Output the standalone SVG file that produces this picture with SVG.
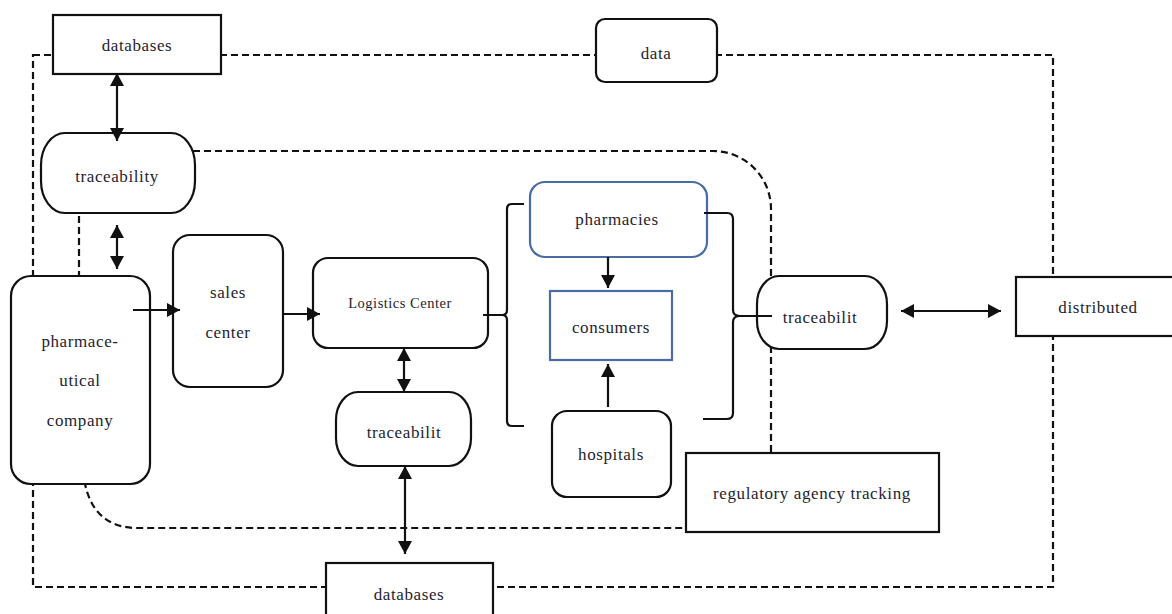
<svg xmlns="http://www.w3.org/2000/svg" width="1172" height="614" viewBox="0 0 1172 614">
<style>
.box{fill:#fff;stroke:#111;stroke-width:2.2}
.blue{fill:#fff;stroke:#4a6ca6;stroke-width:2.2}
.dash{fill:none;stroke:#111;stroke-width:2.2;stroke-dasharray:7 4}
.ln{fill:none;stroke:#111;stroke-width:2.2}
.t{font-family:"Liberation Serif","Times New Roman",serif;font-size:17px;letter-spacing:0.6px;fill:#1e1e30;text-anchor:middle}
.s{font-size:14.5px;letter-spacing:0.5px}
</style>
<defs>
<marker id="ah" viewBox="0 0 13 14" markerWidth="13" markerHeight="14" refX="13" refY="7" orient="auto-start-reverse" markerUnits="userSpaceOnUse">
<path d="M0,0 L13,7 L0,14 z" fill="#111"/>
</marker>
</defs>
<rect width="1172" height="614" fill="#fff"/>
<g id="boundaries">
<rect class="dash" x="33" y="55" width="1020" height="532"/>
<path class="dash" d="M79,205 V285"/>
<path class="dash" d="M193,151 H713 A58,58 0 0 1 771,209 V470"/>
<path class="dash" d="M83,470 Q88,528 138,528 H700"/>
</g>
<g id="databases-top"><rect class="box" x="53" y="15" width="168" height="59"/><text class="t" x="137" y="51">databases</text></g>
<g id="data"><rect class="box" x="596" y="19" width="121" height="63" rx="9"/><text class="t" x="656" y="59">data</text></g>
<g id="traceability-top"><rect class="box" x="41" y="133" width="154" height="80" rx="24" ry="32"/><text class="t" x="117" y="182">traceability</text></g>
<g id="pharma"><rect class="box" x="11" y="276" width="139" height="208" rx="20"/>
<text class="t" x="80" y="347">pharmace-</text><text class="t" x="80" y="386">utical</text><text class="t" x="80" y="426">company</text></g>
<g id="sales"><rect class="box" x="173" y="235" width="110" height="152" rx="17"/>
<text class="t" x="228" y="298">sales</text><text class="t" x="228" y="338">center</text></g>
<g id="logistics"><rect class="box" x="313" y="258" width="175" height="90" rx="15"/><text class="t s" x="400" y="308">Logistics Center</text></g>
<g id="traceability-mid"><rect class="box" x="336" y="392" width="135" height="74" rx="22" ry="28"/><text class="t" x="404" y="438">traceabilit</text></g>
<g id="pharmacies"><rect class="blue" x="530" y="182" width="177" height="75" rx="15"/><text class="t" x="617" y="225">pharmacies</text></g>
<g id="consumers"><rect class="blue" x="550" y="291" width="122" height="69"/><text class="t" x="611" y="333">consumers</text></g>
<g id="hospitals"><rect class="box" x="552" y="411" width="119" height="86" rx="15"/><text class="t" x="611" y="460">hospitals</text></g>
<g id="traceability-right"><rect class="box" x="757" y="276" width="130" height="73" rx="22" ry="28"/><text class="t" x="820" y="323">traceabilit</text></g>
<g id="distributed"><rect class="box" x="1016" y="277" width="170" height="59"/><text class="t" x="1098" y="313">distributed</text></g>
<g id="regulatory"><rect class="box" x="686" y="453" width="253" height="79"/><text class="t" x="812" y="499">regulatory agency tracking</text></g>
<g id="databases-bottom"><rect class="box" x="326" y="563" width="167" height="60"/><text class="t" x="409" y="600">databases</text></g>
<g id="connectors">
<line class="ln" x1="117" y1="73" x2="117" y2="141" marker-start="url(#ah)" marker-end="url(#ah)"/>
<line class="ln" x1="117" y1="225" x2="117" y2="269" marker-start="url(#ah)" marker-end="url(#ah)"/>
<line class="ln" x1="404" y1="348" x2="404" y2="392" marker-start="url(#ah)" marker-end="url(#ah)"/>
<line class="ln" x1="405" y1="466" x2="405" y2="554" marker-start="url(#ah)" marker-end="url(#ah)"/>
<line class="ln" x1="901" y1="311" x2="1001" y2="311" marker-start="url(#ah)" marker-end="url(#ah)"/>
<line class="ln" x1="608" y1="257" x2="608" y2="288" marker-end="url(#ah)"/>
<line class="ln" x1="608" y1="407" x2="608" y2="364" marker-end="url(#ah)"/>
<line class="ln" x1="133" y1="310" x2="180" y2="310" marker-end="url(#ah)"/>
<line class="ln" x1="282" y1="314" x2="320" y2="314" marker-end="url(#ah)"/>
<path class="ln" d="M524,204 H512 Q507,204 507,209 V310 Q507,315 502,315 H483"/>
<path class="ln" d="M502,315 Q507,315 507,320 V421 Q507,426 512,426 H524"/>
<path class="ln" d="M704,213 H727 Q733,213 733,219 V310 Q733,316 740,316 H772"/>
<path class="ln" d="M740,316 Q733,316 733,322 V413 Q733,419 727,419 H703"/>
</g>
</svg>
